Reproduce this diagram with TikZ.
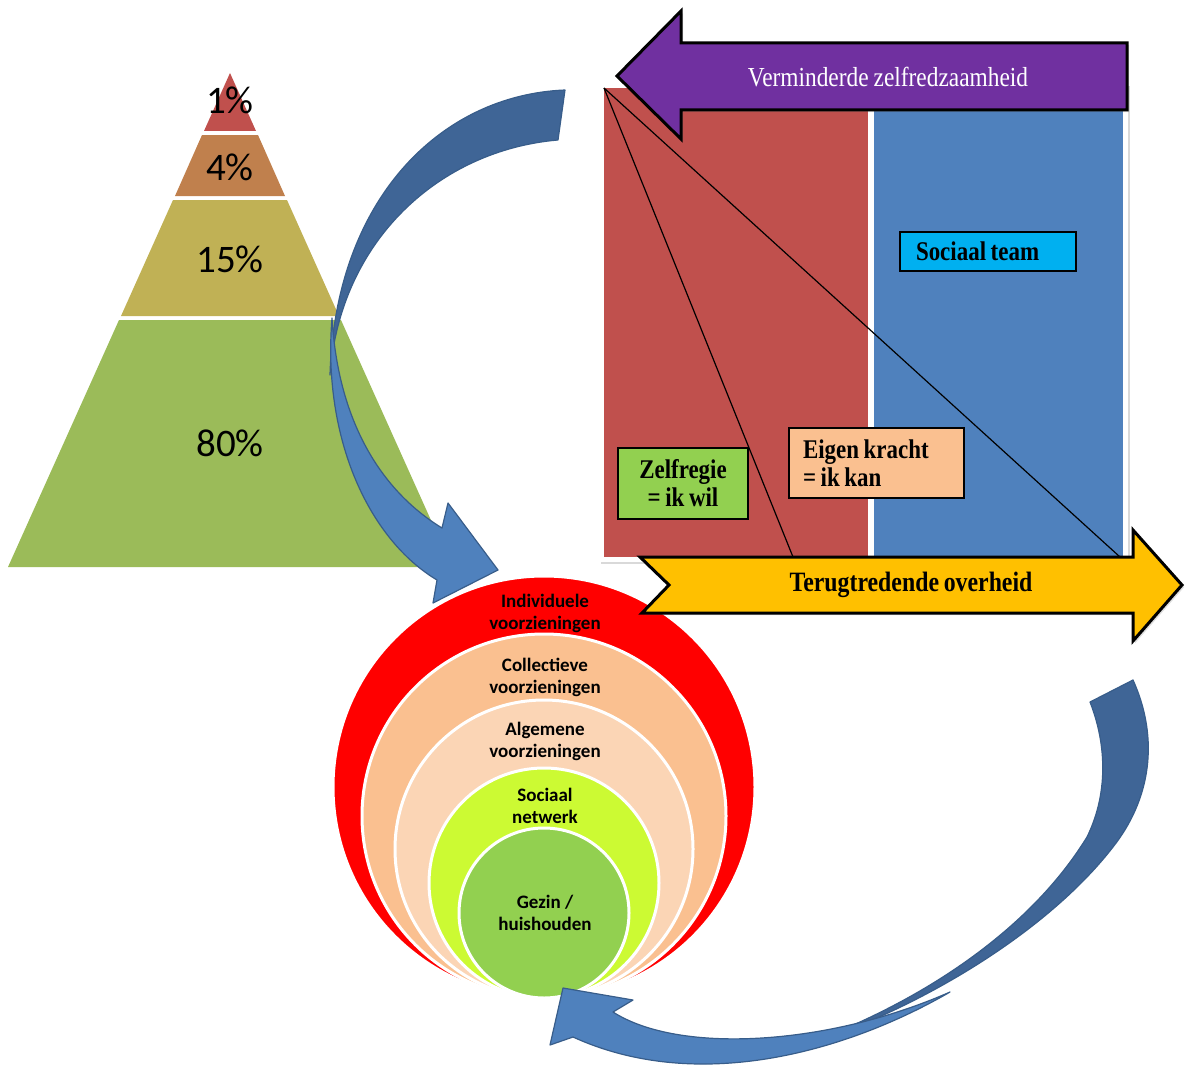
\documentclass[tikz,border=0pt]{standalone}
\usepackage{fontspec}
\newfontfamily\calib{Carlito}
\newfontfamily\condserif[FakeStretch=0.85,WordSpace=0.85,BoldFeatures={FakeStretch=0.85,WordSpace=0.8}]{Liberation Serif}
\usetikzlibrary{shadows}
\definecolor{topred}{HTML}{C0504D}
\definecolor{toporange}{HTML}{C0804D}
\definecolor{midolive}{HTML}{C0B155}
\definecolor{basegreen}{HTML}{9BBB59}
\definecolor{panelblue}{HTML}{4F81BD}
\definecolor{purp}{HTML}{7030A0}
\definecolor{yell}{HTML}{FFC000}
\definecolor{boxgreen}{HTML}{92D050}
\definecolor{boxpeach}{HTML}{FAC090}
\definecolor{boxcyan}{HTML}{00B0F0}
\definecolor{ringpeach}{HTML}{FAC090}
\definecolor{ringlight}{HTML}{FBD5B5}
\definecolor{ringlime}{HTML}{CCFA33}
\definecolor{bluedark}{HTML}{3F6596}
\definecolor{bluelight}{HTML}{4F81BD}
\definecolor{blueline}{HTML}{385D8A}
\begin{document}
\begin{tikzpicture}[x=1pt,y=-1pt,
  pct/.style={font=\calib\fontsize{39}{44}\selectfont},
  ring/.style={draw=white,line width=3pt},
  ringtxt/.style={align=center,font=\calib\bfseries\fontsize{19}{22}\selectfont},
  bigarrow/.style={draw=black,line width=3pt,line join=miter},
  lbl/.style={font=\condserif\bfseries\fontsize{27}{28}\selectfont},
  lblbox/.style={lbl,draw=black,line width=1.5pt,inner ysep=0pt},
  twist/.style={draw=blueline,line width=1.2pt,line join=round}]
  \useasboundingbox (0,0) rectangle (1185,1070);

  \fill[topred] (230,73) -- (256,131) -- (204,131) -- cycle;
  \fill[toporange] (202,135) -- (258,135) -- (285,196) -- (175,196) -- cycle;
  \fill[midolive] (173,200) -- (287,200) -- (339,316) -- (121,316) -- cycle;
  \fill[basegreen] (119,320) -- (341,320) -- (452,567) -- (8,567) -- cycle;
  \node[pct] (p1) at (230,100) {1\%};
  \node[pct] (p4) at (230,167) {4\%};
  \node[pct] (p15) at (230,259) {15\%};
  \node[pct] (p80) at (230,443) {80\%};

  \fill[white,drop shadow={opacity=0.3}] (599,84) rectangle (1128,562);
  \fill[topred] (604,88) rectangle (868,557);
  \fill[panelblue] (874,88) rectangle (1123,557);
  \coordinate (corner) at (604,88);
  \coordinate (wil) at (793,557);
  \coordinate (kan) at (1120,557);
  \draw[line width=1.2pt] (corner) -- (wil);
  \draw[line width=1.2pt] (corner) -- (kan);
  \node[lblbox,fill=boxgreen,minimum width=130,minimum height=71,align=center] (zelf) at (683,483.5) {Zelfregie\\= ik wil};
  \node[lblbox,fill=boxpeach,minimum height=70,inner xsep=14pt,text width=147pt,align=flush left] (eigen) at (876.5,463) {Eigen kracht\\= ik kan};
  \node[lblbox,fill=boxcyan,minimum height=39,inner xsep=16pt,text width=144pt,align=flush left] (team) at (988,251.5) {Sociaal team};

  \draw[ring,fill=red] (544,787) circle[radius=211];
  \draw[ring,fill=ringpeach] (544,816) circle[radius=182];
  \draw[ring,fill=ringlight] (544,849) circle[radius=149];
  \draw[ring,fill=ringlime] (544,883) circle[radius=115];
  \draw[ring,fill=boxgreen] (544,913) circle[radius=85];
  \node[ringtxt] (indiv) at (545,613) {Individuele\\voorzieningen};
  \node[ringtxt] (coll) at (545,677) {Collectieve\\voorzieningen};
  \node[ringtxt] (alg) at (545,741) {Algemene\\voorzieningen};
  \node[ringtxt] (netw) at (545,806) {Sociaal\\netwerk};
  \node[ringtxt] (gezin) at (545,913) {Gezin /\\huishouden};

  \filldraw[bigarrow,fill=purp,drop shadow={opacity=0.25}] (617,76) -- (681,11) -- (681,43) -- (1127,43) -- (1127,110) -- (681,110) -- (681,139) -- cycle;
  \node[font=\condserif\fontsize{27.5}{28}\selectfont,text=white] (minder) at (888,77) {Verminderde zelfredzaamheid};
  \filldraw[bigarrow,fill=yell,drop shadow={opacity=0.25}] (640,557) -- (1133,557) -- (1133,530) -- (1182,585) -- (1133,641) -- (1133,613) -- (642,613) -- (669,585) -- cycle;
  \node[lbl,font=\condserif\bfseries\fontsize{28}{28}\selectfont] (terug) at (911,585) {Terugtredende overheid};

  \filldraw[twist,fill=bluedark] (565,90) .. controls (440,95) and (335,200) .. (330,375) .. controls (340,240) and (440,150) .. (558,140) -- cycle;
  \filldraw[twist,fill=bluelight] (332,318) .. controls (322,440) and (370,540) .. (437,580) -- (433,603) -- (498,570) -- (448,503) -- (442,528) .. controls (380,490) and (338,420) .. (332,318) -- cycle;
  \filldraw[twist,fill=bluedark] (1133,680) .. controls (1160,740) and (1150,800) .. (1113,847) .. controls (1045,935) and (910,1015) .. (790,1050) .. controls (920,1005) and (1030,930) .. (1087,837) .. controls (1110,790) and (1105,740) .. (1090,702) -- cycle;
  \filldraw[twist,fill=bluelight] (950,992) .. controls (850,1050) and (700,1095) .. (573,1037) -- (550,1045) -- (563,988) -- (633,1000) -- (613,1012) .. controls (680,1055) and (830,1045) .. (950,992) -- cycle;
\end{tikzpicture}
\end{document}
